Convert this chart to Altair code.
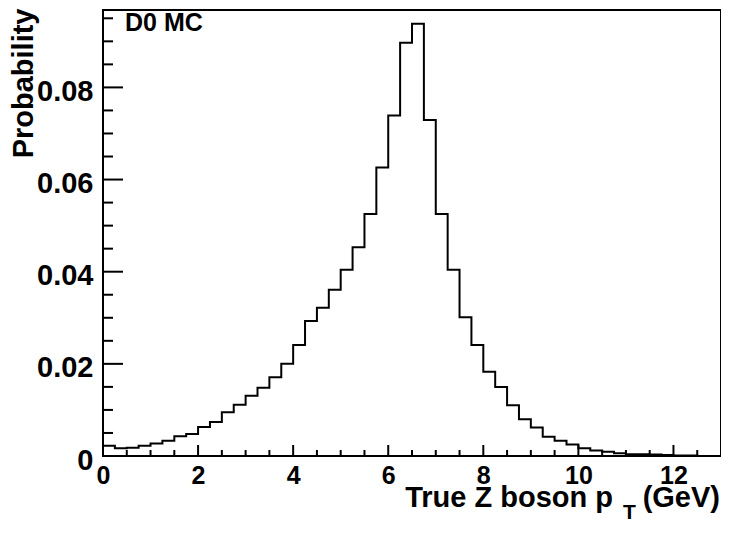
import altair as alt
import pandas as pd

# ---- data ----
BIN_WIDTH = 0.25
X_MIN, X_MAX = 0.0, 13.0
Y_MAX = 0.0968

probabilities = [
    0.0022, 0.0017, 0.0018, 0.0022, 0.0027, 0.0033, 0.0043, 0.0048, 0.0063, 0.0074,
    0.0095, 0.0111, 0.0131, 0.0148, 0.0171, 0.0200, 0.0241, 0.0293, 0.0322, 0.0361,
    0.0404, 0.0453, 0.0525, 0.0626, 0.0739, 0.0897, 0.0938, 0.0729, 0.0525, 0.0404,
    0.0301, 0.0241, 0.0183, 0.0150, 0.0110, 0.0080, 0.0062, 0.0042, 0.0033, 0.0025,
    0.0017, 0.0012, 0.0009, 0.0006, 0.0004, 0.0004, 0.0003, 0.0002, 0.0001, 0.0001,
    0.0000, 0.0000,
]

x_major_ticks = [0, 2, 4, 6, 8, 10, 12]
x_minor_ticks = [0.5, 1, 1.5, 2.5, 3, 3.5, 4.5, 5, 5.5, 6.5, 7, 7.5, 8.5, 9, 9.5,
                 10.5, 11, 11.5, 12.5]
y_major_ticks = [0, 0.02, 0.04, 0.06, 0.08]
y_minor_ticks = [0.005, 0.01, 0.015, 0.025, 0.03, 0.035, 0.045, 0.05, 0.055,
                 0.065, 0.07, 0.075, 0.085, 0.09, 0.095]

# ---- layout ----
W, H = 618, 446
FONT = "Liberation Sans"

edges = [X_MIN + i * BIN_WIDTH for i in range(len(probabilities))] + [X_MAX]
hist = pd.DataFrame({"x": edges, "y": probabilities + [probabilities[-1]]})

xs = alt.Scale(domain=[X_MIN, X_MAX], nice=False, zero=False)
ys = alt.Scale(domain=[0, Y_MAX], nice=False, zero=False)

x_axis = alt.Axis(values=x_major_ticks, ticks=False, domain=False, grid=False,
                  labelFont=FONT, labelFontWeight="bold", labelFontSize=25,
                  labelColor="black", labelPadding=7, labelFlush=False, format="d")
y_axis = alt.Axis(values=y_major_ticks, ticks=False, domain=False, grid=False,
                  labelFont=FONT, labelFontWeight="bold", labelFontSize=29,
                  labelColor="black", labelPadding=10, labelOffset=4,
                  labelExpr="datum.value == 0 ? '0' : format(datum.value, '.2f')",
                  titleFont=FONT, titleFontWeight="bold", titleFontSize=29,
                  titleColor="black", titleAngle=270, titleAlign="right",
                  titleBaseline="middle", titleX=-80, titleY=-2)

XENC = dict(scale=xs, axis=x_axis, title="")
YENC = dict(scale=ys, axis=y_axis, title="Probability")

line = alt.Chart(hist).mark_line(
    interpolate="step-after", color="black", strokeWidth=2
).encode(
    x=alt.X("x:Q", **XENC),
    y=alt.Y("y:Q", **YENC),
)


def yticks(vals, length):
    return alt.Chart(pd.DataFrame({"y": vals})).mark_rule(
        color="black", strokeWidth=2
    ).encode(
        y=alt.Y("y:Q", **YENC),
        x=alt.value(0), x2=alt.value(length),
    )


def xticks(vals, length):
    return alt.Chart(pd.DataFrame({"x": vals})).mark_rule(
        color="black", strokeWidth=2
    ).encode(
        x=alt.X("x:Q", **XENC),
        y=alt.value(H), y2=alt.value(H - length),
    )


dummy = pd.DataFrame({"a": [0]})


def label(text, x, y, size, align):
    return alt.Chart(dummy).mark_text(
        text=text, font=FONT, fontWeight="bold", fontSize=size,
        align=align, baseline="alphabetic", color="black"
    ).encode(x=alt.value(x), y=alt.value(y))


chart = alt.layer(
    line,
    yticks(y_major_ticks, 20),
    yticks(y_minor_ticks, 10),
    xticks(x_major_ticks, 11),
    xticks(x_minor_ticks, 6),
    label("D0 MC", 22, 21, 25, "left"),
    label("True Z boson p", 510, 497, 29, "right"),
    label("T", 520, 509, 21, "left"),
    label("(GeV)", 617, 497, 29, "right"),
).properties(
    width=W, height=H,
    autosize=alt.AutoSizeParams(type="none"),
    padding={"left": 95, "top": 2, "right": 0, "bottom": 68},
).configure(
    background="white"
).configure_view(
    stroke="black", strokeWidth=2
)

chart.save("out.html", embed_options={"renderer": "svg", "actions": False})
